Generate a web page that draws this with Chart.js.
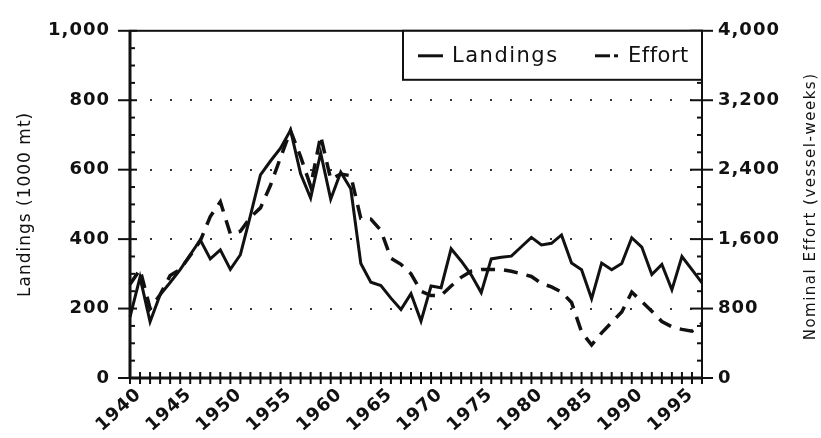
<!DOCTYPE html>
<html>
<head>
<meta charset="utf-8">
<script src="https://cdn.jsdelivr.net/npm/chart.js@4.4.0/dist/chart.umd.min.js"></script>
<style>
html,body{margin:0;padding:0;background:#fff;}
#wrap{width:821px;height:438px;position:relative;}
</style>
</head>
<body>
<div id="wrap"><canvas id="c" width="821" height="438"></canvas></div>
<script>
const years = [1940,1941,1942,1943,1944,1945,1946,1947,1948,1949,
  1950,1951,1952,1953,1954,1955,1956,1957,1958,1959,
  1960,1961,1962,1963,1964,1965,1966,1967,1968,1969,
  1970,1971,1972,1973,1974,1975,1976,1977,1978,1979,
  1980,1981,1982,1983,1984,1985,1986,1987,1988,1989,
  1990,1991,1992,1993,1994,1995,1996,1997];
const landings = [175,290,162,240,275,312,355,398,343,369,
  313,355,468,585,625,662,714,588,518,648,
  515,593,545,330,276,266,230,197,243,164,
  265,260,372,337,297,246,343,348,351,378,
  405,383,388,412,331,312,228,331,312,330,
  404,377,298,327,254,350,312,274];
const effort = [1080,1250,800,960,1180,1250,1410,1580,1860,2030,
  1660,1690,1850,1960,2220,2540,2850,2550,2210,2790,
  2290,2350,2330,1840,1830,1700,1380,1310,1200,1000,
  950,950,1060,1160,1230,1250,1250,1250,1230,1200,
  1170,1090,1050,990,870,530,380,520,640,760,
  990,880,770,650,590,560,540,630];
const xTickLabels = ['1940','1945','1950','1955','1960','1965','1970','1975','1980','1985','1990','1995'];
const leftTicks = [0,200,400,600,800,1000];
const rightTicks = [0,800,1600,2400,3200,4000];
const seriesNames = ['Landings','Effort'];
const leftTitle = 'Landings (1000 mt)';
const rightTitle = 'Nominal Effort (vessel-weeks)';

const FONT = "'DejaVu Sans', sans-serif";
const fmt = v => v.toLocaleString('en-US');

const spacingPlugin = {
  id: 'spacing',
  beforeUpdate(chart){ chart.ctx.letterSpacing = '1px'; },
  beforeDraw(chart){ chart.ctx.letterSpacing = '1px'; }
};

const framePlugin = {
  id: 'frame',
  beforeDatasetsDraw(chart){
    const {ctx, chartArea: ca, scales} = chart;
    ctx.save();
    ctx.strokeStyle = '#111';
    ctx.lineCap = 'butt';
    ctx.lineWidth = 2;
    ctx.strokeRect(ca.left, ca.top, ca.right - ca.left, ca.bottom - ca.top);
    ctx.lineWidth = 3;
    ctx.beginPath(); ctx.moveTo(ca.left, ca.top); ctx.lineTo(ca.left, ca.bottom + 1); ctx.stroke();
    ctx.beginPath(); ctx.moveTo(ca.left, ca.bottom); ctx.lineTo(ca.right, ca.bottom); ctx.stroke();
    ctx.lineWidth = 2;
    years.forEach((y, i) => {
      const px = scales.x.getPixelForValue(i);
      ctx.beginPath(); ctx.moveTo(px, ca.bottom - 6); ctx.lineTo(px, ca.bottom + 6); ctx.stroke();
    });
    const yl = scales.y;
    for (let v = 0; v <= 1000; v += 50) {
      const py = yl.getPixelForValue(v);
      ctx.beginPath();
      if (v % 200 === 0) { ctx.moveTo(ca.left - 12, py); ctx.lineTo(ca.left + 7, py); }
      else { ctx.moveTo(ca.left, py); ctx.lineTo(ca.left + 5, py); }
      ctx.stroke();
    }
    const yr = scales.y2;
    for (let v = 0; v <= 4000; v += 200) {
      const py = yr.getPixelForValue(v);
      ctx.beginPath();
      if (v % 800 === 0) { ctx.moveTo(ca.right - 12, py); ctx.lineTo(ca.right + 11, py); }
      else { ctx.moveTo(ca.right - 5, py); ctx.lineTo(ca.right, py); }
      ctx.stroke();
    }
    ctx.restore();
  },
  afterDraw(chart){
    const {ctx, chartArea: ca} = chart;
    ctx.save();
    ctx.letterSpacing = '1.5px';
    ctx.fillStyle = '#111';
    ctx.font = "15px " + FONT;
    ctx.textAlign = 'center';
    ctx.textBaseline = 'middle';
    ctx.translate(811, (ca.top + ca.bottom) / 2 + 2);
    ctx.rotate(-Math.PI / 2);
    ctx.fillText(rightTitle, 0, 0);
    ctx.restore();

    ctx.save();
    ctx.letterSpacing = '1.5px';
    const bw = 299, bh = 49;
    const bx = ca.right - bw, by = ca.top;
    ctx.fillStyle = '#fff';
    ctx.fillRect(bx, by, bw, bh);
    ctx.strokeStyle = '#111';
    ctx.lineWidth = 2;
    ctx.strokeRect(bx, by, bw, bh);
    const cy = by + 25;
    const ds = chart.data.datasets;
    ctx.lineWidth = 3;
    ctx.beginPath(); ctx.moveTo(bx + 15, cy); ctx.lineTo(bx + 40, cy); ctx.stroke();
    ctx.beginPath(); ctx.moveTo(bx + 192, cy); ctx.lineTo(bx + 207, cy); ctx.stroke();
    ctx.beginPath(); ctx.moveTo(bx + 211, cy); ctx.lineTo(bx + 215, cy); ctx.stroke();
    ctx.fillStyle = '#111';
    ctx.font = "21px " + FONT;
    ctx.textAlign = 'left';
    ctx.textBaseline = 'middle';
    ctx.fillText(ds[0].label, bx + 49, cy + 1);
    ctx.letterSpacing = '0.5px';
    ctx.fillText(ds[1].label, bx + 225, cy + 1);
    ctx.restore();
  }
};

new Chart(document.getElementById('c'), {
  type: 'line',
  data: {
    labels: years.map(String),
    datasets: [
      {label: seriesNames[0], data: landings, yAxisID: 'y', borderColor: '#111', borderWidth: 3,
       pointRadius: 0, tension: 0, fill: false},
      {label: seriesNames[1], data: effort, yAxisID: 'y2', borderColor: '#111', borderWidth: 3.5,
       borderDash: [14, 9], pointRadius: 0, tension: 0, fill: false}
    ]
  },
  options: {
    responsive: false,
    animation: false,
    devicePixelRatio: 1,
    layout: {padding: {top: 18, left: 0, right: 0, bottom: 0}},
    plugins: {legend: {display: false}, tooltip: {enabled: false}},
    scales: {
      x: {
        type: 'category', offset: false,
        grid: {display: false, drawTicks: false},
        border: {display: false},
        ticks: {
          autoSkip: false, minRotation: 42, maxRotation: 42, padding: 6, labelOffset: 9,
          color: '#111', font: {family: FONT, size: 18, weight: 'bold'},
          callback: function(v, i){ const s = String(years[i]); return xTickLabels.includes(s) ? s : ''; }
        },
        afterFit: s => { s.height = 60; }
      },
      y: {
        position: 'left', min: 0, max: 1000,
        afterBuildTicks: s => { s.ticks = leftTicks.map(v => ({value: v})); },
        ticks: {padding: 20, color: '#111', font: {family: FONT, size: 18, weight: 'bold'}, callback: v => fmt(v)},
        grid: {drawTicks: false, lineWidth: 2,
          color: c => (c.tick && c.tick.value > 0 && c.tick.value < 1000) ? 'rgba(20,20,20,0.85)' : 'rgba(0,0,0,0)'},
        border: {display: false, dash: [2, 18]},
        title: {display: true, text: leftTitle, color: '#111', font: {family: FONT, size: 17}, padding: {top: 15, bottom: 0}},
        afterFit: s => { s.width = 130; }
      },
      y2: {
        position: 'right', min: 0, max: 4000,
        afterBuildTicks: s => { s.ticks = rightTicks.map(v => ({value: v})); },
        ticks: {padding: 16, color: '#111', font: {family: FONT, size: 18, weight: 'bold'}, callback: v => fmt(v)},
        grid: {display: false, drawTicks: false},
        border: {display: false},
        afterFit: s => { s.width = 119; }
      }
    }
  },
  plugins: [spacingPlugin, framePlugin]
});
</script>
</body>
</html>
